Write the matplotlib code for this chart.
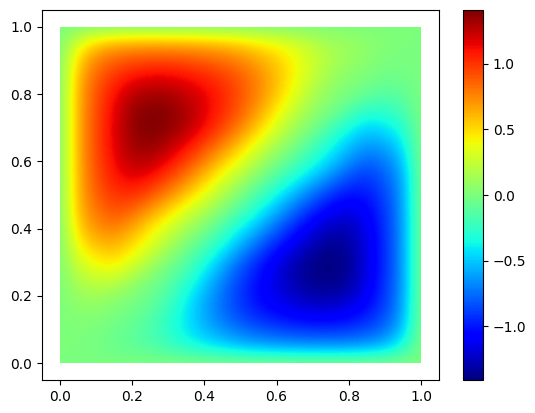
import numpy as np
import matplotlib
matplotlib.use('Agg')
import matplotlib.pyplot as plt
from matplotlib.patches import Rectangle

# grid spacing and outer limits of the field
step = 0.05
x_min, x_max = 0.0, 1.0
y_min, y_max = 0.0, 1.0

# estimated values, one row per y from the top down
field = [
    [0]*21,
    [0,.32,.52,.60,.63,.64,.63,.62,.60,.57,.52,.45,.38,.30,.21,.14,.10,.06,.03,0,0],
    [0,.52,.76,.86,.91,.93,.93,.91,.87,.82,.75,.65,.54,.41,.28,.17,.10,.05,0,-.01,0],
    [0,.60,.86,1.0,1.1,1.15,1.15,1.11,1.05,.98,.88,.75,.59,.41,.25,.12,.04,0,-.04,-.04,0],
    [0,.63,.91,1.1,1.26,1.31,1.3,1.23,1.15,1.05,.91,.75,.56,.36,.17,.05,0,-.08,-.13,-.10,0],
    [0,.64,.93,1.15,1.34,1.4,1.38,1.3,1.17,1.03,.88,.68,.45,.24,.09,0,-.14,-.26,-.26,-.18,0],
    [0,.64,.94,1.16,1.36,1.41,1.38,1.28,1.13,.96,.77,.54,.31,.13,0,-.18,-.33,-.47,-.42,-.30,0],
    [0,.64,.94,1.16,1.33,1.37,1.28,1.14,.97,.78,.57,.34,.16,0,-.16,-.33,-.50,-.62,-.58,-.42,0],
    [0,.64,.93,1.13,1.27,1.27,1.14,.97,.78,.57,.37,.17,0,-.14,-.30,-.47,-.65,-.78,-.72,-.52,0],
    [0,.63,.91,1.08,1.17,1.10,.96,.78,.57,.35,.17,0,-.16,-.32,-.50,-.68,-.85,-.92,-.80,-.60,0],
    [0,.62,.87,1.0,1.02,.92,.75,.56,.36,.18,0,-.18,-.36,-.56,-.75,-.92,-1.02,-1.0,-.87,-.62,0],
    [0,.60,.80,.92,.85,.68,.50,.32,.16,0,-.17,-.35,-.57,-.78,-.96,-1.1,-1.17,-1.08,-.91,-.63,0],
    [0,.52,.72,.78,.65,.47,.30,.14,0,-.17,-.37,-.57,-.78,-.97,-1.14,-1.27,-1.27,-1.13,-.93,-.64,0],
    [0,.42,.58,.62,.50,.33,.16,0,-.16,-.34,-.57,-.78,-.97,-1.14,-1.28,-1.37,-1.33,-1.16,-.94,-.64,0],
    [0,.30,.42,.47,.33,.18,0,-.13,-.31,-.54,-.77,-.96,-1.13,-1.28,-1.38,-1.41,-1.36,-1.16,-.94,-.64,0],
    [0,.18,.26,.26,.14,0,-.09,-.24,-.45,-.68,-.88,-1.03,-1.17,-1.3,-1.38,-1.4,-1.34,-1.15,-.93,-.64,0],
    [0,.10,.13,.08,0,-.05,-.17,-.36,-.56,-.75,-.91,-1.05,-1.15,-1.23,-1.3,-1.31,-1.26,-1.1,-.91,-.63,0],
    [0,.04,.04,0,-.04,-.12,-.25,-.41,-.59,-.75,-.88,-.98,-1.05,-1.11,-1.15,-1.15,-1.1,-1.0,-.86,-.60,0],
    [0,.01,0,-.05,-.10,-.17,-.28,-.41,-.54,-.65,-.75,-.82,-.87,-.91,-.93,-.93,-.91,-.86,-.76,-.52,0],
    [0,0,-.03,-.06,-.10,-.14,-.21,-.30,-.38,-.45,-.52,-.57,-.60,-.62,-.63,-.64,-.63,-.60,-.52,-.32,0],
    [0]*21,
]

W, H = 535, 413
fig = plt.figure(figsize=(W/100, H/100), dpi=100)
ax = fig.add_axes([42/W, 1 - 380/H, 397/W, 370/H])
cax = fig.add_axes([463/W, 1 - 380/H, 20/W, 370/H])

# cell centres sit on the grid, so the image runs half a step past the square
im = ax.imshow(np.array(field), cmap='jet', interpolation='bicubic', aspect='auto',
               extent=(x_min - step/2, x_max + step/2, y_min - step/2, y_max + step/2))
im.set_clip_path(Rectangle((x_min, y_min), x_max - x_min, y_max - y_min, transform=ax.transData))
ax.set_xlim(-0.05, 1.05)
ax.set_ylim(-0.05, 1.05)
fig.colorbar(im, cax=cax)

fig.savefig('out.png', dpi=100)
